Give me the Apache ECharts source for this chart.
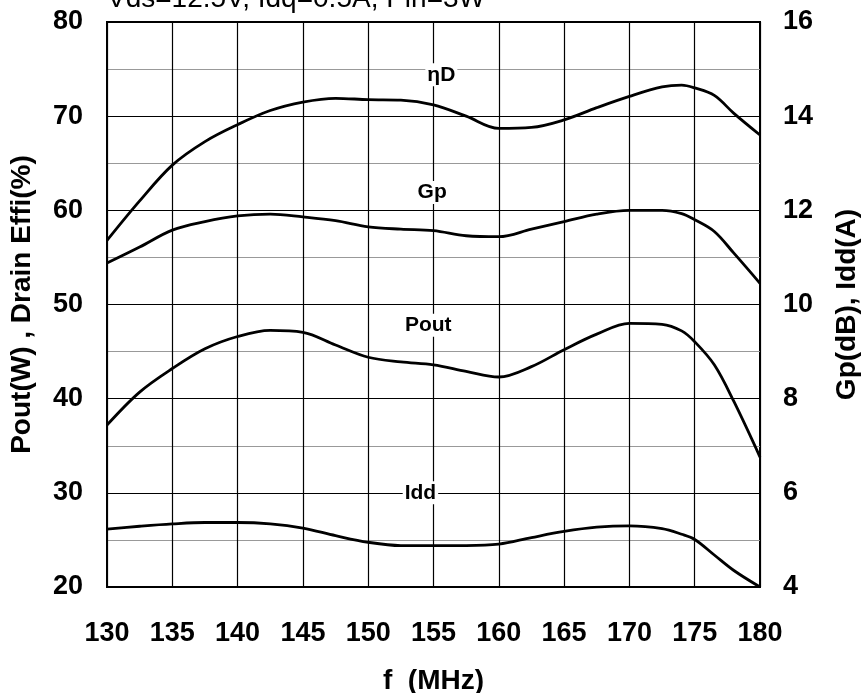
<!DOCTYPE html>
<html>
<head>
<meta charset="utf-8">
<script src="https://cdn.jsdelivr.net/npm/echarts@6/dist/echarts.min.js"></script>
<style>html,body{margin:0;padding:0;background:#fff;}#c{width:861px;height:693px;}</style>
</head>
<body>
<div id="c"></div>
<script>
const freq = [130,132.5,135,137.5,140,142.5,145,147.5,150,152.5,155,157.5,160,162.5,165,167.5,170,172.5,174,175,176.5,178,180];
const etaD = [56.8,61.0,64.8,67.3,69.1,70.6,71.5,71.9,71.75,71.7,71.2,70.0,68.7,68.8,69.6,70.9,72.1,73.1,73.3,73.0,72.2,70.3,68.0];
const gp   = [10.88,11.22,11.58,11.76,11.88,11.92,11.86,11.78,11.65,11.6,11.57,11.46,11.44,11.6,11.76,11.92,12.0,12.0,11.93,11.8,11.55,11.09,10.45];
const pout = [37.2,40.7,43.2,45.3,46.6,47.25,47.05,45.7,44.4,43.9,43.6,42.9,42.3,43.4,45.2,46.85,48.0,47.9,47.2,46.05,43.6,39.7,33.8];
const idd  = [5.23,5.29,5.34,5.37,5.37,5.34,5.25,5.09,4.95,4.88,4.88,4.88,4.91,5.05,5.18,5.27,5.30,5.24,5.12,5.01,4.68,4.35,4.0];
const curveLabels = [
  {name:'ηD', x:155.6, y:74.4},
  {name:'Gp', x:154.9, y:61.9},
  {name:'Pout', x:154.6, y:47.8},
  {name:'Idd', x:154.0, y:30.0}
];
const titleText = 'Vds=12.5V, Idq=0.5A, Pin=3W';
const xName = 'f  (MHz)';
const yLeftName = 'Pout(W) , Drain Effi(%)';
const yRightName = 'Gp(dB), Idd(A)';

const FF = '"Liberation Sans", Arial, sans-serif';
const chart = echarts.init(document.getElementById('c'), null, {renderer:'canvas'});
const pair = arr => freq.map((f,i)=>[f, arr[i]]);
const lineS = (name, arr, yIdx) => ({
  name, type:'line', yAxisIndex:yIdx, data: pair(arr), smooth:0.35, symbol:'none',
  lineStyle:{color:'#000', width:2.8}, z:3
});
chart.setOption({
  animation:false,
  backgroundColor:'#fff',
  grid:{left:107, right:101, top:22, bottom:106, containLabel:false, outerBoundsMode:'none',
    show:true, borderColor:'#000', borderWidth:2, backgroundColor:'transparent'},
  graphic:[{type:'text', x:107, y:-1, z:10, style:{text:titleText, font:'28px '+FF, fill:'#000', textAlign:'left', textVerticalAlign:'middle'}}],
  xAxis:{type:'value', min:130, max:180, interval:5,
    name:xName, nameLocation:'middle', nameGap:80,
    nameTextStyle:{fontSize:28, fontWeight:'bold', color:'#000', fontFamily:FF},
    axisLine:{show:false}, axisTick:{show:false},
    axisLabel:{margin:33, fontSize:27, fontWeight:'bold', color:'#000', fontFamily:FF},
    splitLine:{show:true, lineStyle:{color:'#000', width:1.2}}},
  yAxis:[
    {type:'value', min:20, max:80, interval:10, position:'left',
      name:yLeftName, nameLocation:'middle', nameGap:71, nameRotate:90,
      nameTextStyle:{fontSize:28, fontWeight:'bold', color:'#000', fontFamily:FF},
      axisLine:{show:false}, axisTick:{show:false},
      axisLabel:{margin:24, fontSize:27, fontWeight:'bold', color:'#000', fontFamily:FF},
      splitLine:{show:true, lineStyle:{color:'#000', width:1.2}},
      minorTick:{show:false, splitNumber:2},
      minorSplitLine:{show:true, lineStyle:{color:'#999', width:1.2}}},
    {type:'value', min:4, max:16, interval:2, position:'right',
      name:yRightName, nameLocation:'middle', nameGap:73, nameRotate:90,
      nameTextStyle:{fontSize:28, fontWeight:'bold', color:'#000', fontFamily:FF},
      axisLine:{show:false}, axisTick:{show:false},
      axisLabel:{margin:23, fontSize:27, fontWeight:'bold', color:'#000', fontFamily:FF},
      splitLine:{show:false}}
  ],
  series:[
    lineS('ηD', etaD, 0),
    lineS('Gp', gp, 1),
    lineS('Pout', pout, 0),
    lineS('Idd', idd, 1),
    {type:'scatter', yAxisIndex:0, symbolSize:0, z:4, itemStyle:{opacity:1},
      data: curveLabels.map(d=>({value:[d.x,d.y], name:d.name})),
      label:{show:true, position:'inside', formatter:p=>p.name, fontSize:21, fontWeight:'bold', color:'#000', opacity:1, fontFamily:FF, backgroundColor:'#fff', padding:[1,2]}}
  ]
});
</script>
</body>
</html>
